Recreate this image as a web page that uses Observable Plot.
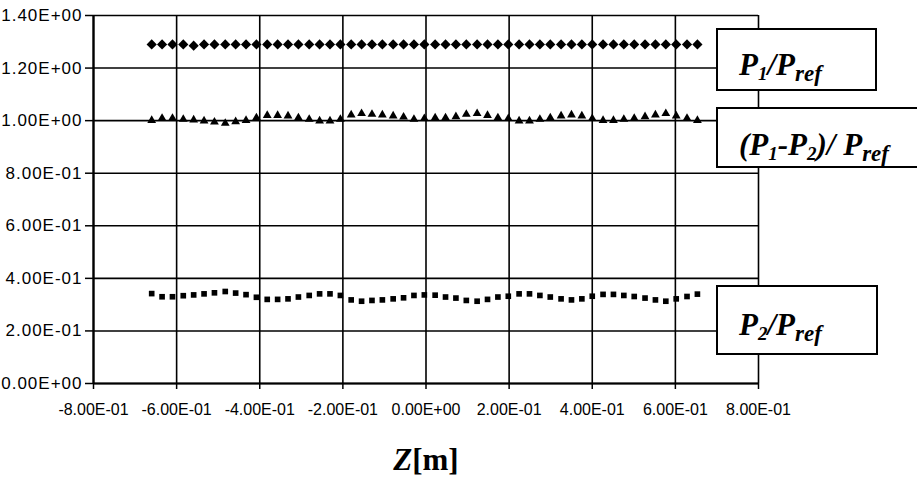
<!DOCTYPE html>
<html>
<head>
<meta charset="utf-8">
<script src="https://cdn.jsdelivr.net/npm/d3@7"></script>
<script src="https://cdn.jsdelivr.net/npm/@observablehq/plot@0.6"></script>
<style>
  html, body { margin: 0; padding: 0; background: white; }
  #wrap { position: relative; width: 917px; height: 485px; overflow: hidden; background: white; }
  .box { position: absolute; background: white; border: 2px solid black; box-sizing: border-box; }
  .lbl { position: absolute; font-family: "Liberation Serif", "Times New Roman", serif; font-weight: bold; font-style: italic; font-size: 31px; line-height: 31px; white-space: nowrap; color: black; }
  .lbl .s1 { font-size: 19px; position: relative; top: 5px; }
  .lbl .sr { font-size: 23px; position: relative; top: 6px; }
  #xtitle { position: absolute; left: 376px; width: 100px; text-align: center; top: 444px; font-family: "Liberation Serif", "Times New Roman", serif; font-weight: bold; font-size: 31px; line-height: 31px; }
  #xtitle i { font-style: italic; }
</style>
</head>
<body>
<div id="wrap">
  <div id="chart"></div>
  <div class="box" style="left:716px; top:28px; width:161px; height:63px;"></div>
  <div class="lbl" style="left:739px; top:49px;">P<span class="s1">1</span>/P<span class="sr">ref</span></div>
  <div class="box" style="left:716px; top:107px; width:215px; height:61px;"></div>
  <div class="lbl" style="left:739px; top:129px;">(P<span class="s1">1</span>-P<span class="s1">2</span>)/ P<span class="sr">ref</span></div>
  <div class="box" style="left:716px; top:285px; width:162px; height:70px;"></div>
  <div class="lbl" style="left:739px; top:309px;">P<span class="s1">2</span>/P<span class="sr">ref</span></div>
  <div id="xtitle"><i>Z</i>[m]</div>
</div>
<script>
const zValues = [-0.660, -0.635, -0.610, -0.584, -0.559, -0.534, -0.509, -0.483, -0.458, -0.433,
  -0.408, -0.382, -0.357, -0.332, -0.307, -0.281, -0.256, -0.231, -0.206, -0.180,
  -0.155, -0.130, -0.105, -0.079, -0.054, -0.029, -0.004, 0.022, 0.047, 0.072,
  0.097, 0.123, 0.148, 0.173, 0.198, 0.224, 0.249, 0.274, 0.299, 0.325,
  0.350, 0.375, 0.400, 0.426, 0.451, 0.476, 0.501, 0.527, 0.552, 0.577,
  0.602, 0.628, 0.653];
const p1Ratio = [1.290, 1.290, 1.290, 1.290, 1.285, 1.290, 1.290, 1.290, 1.290, 1.290,
  1.290, 1.290, 1.290, 1.290, 1.290, 1.290, 1.290, 1.290, 1.290, 1.290,
  1.290, 1.290, 1.290, 1.290, 1.290, 1.290, 1.290, 1.290, 1.290, 1.290,
  1.290, 1.290, 1.290, 1.290, 1.290, 1.290, 1.290, 1.290, 1.290, 1.290,
  1.290, 1.290, 1.290, 1.290, 1.290, 1.290, 1.290, 1.290, 1.290, 1.290,
  1.290, 1.290, 1.290];
const diffRatio = [1.001, 1.009, 1.009, 1.005, 1.003, 0.999, 0.995, 0.990, 0.996, 1.001,
  1.011, 1.020, 1.020, 1.018, 1.011, 1.005, 0.999, 0.999, 1.005, 1.022,
  1.027, 1.024, 1.022, 1.018, 1.014, 1.005, 1.008, 1.011, 1.011, 1.015,
  1.024, 1.027, 1.020, 1.011, 1.008, 0.999, 0.999, 1.005, 1.011, 1.018,
  1.022, 1.018, 1.008, 1.001, 1.001, 1.005, 1.009, 1.015, 1.022, 1.027,
  1.018, 1.009, 1.001];
const p2Ratio = [0.342, 0.330, 0.330, 0.334, 0.337, 0.341, 0.345, 0.350, 0.344, 0.338,
  0.328, 0.320, 0.320, 0.322, 0.329, 0.335, 0.341, 0.341, 0.335, 0.318,
  0.313, 0.316, 0.318, 0.322, 0.326, 0.335, 0.337, 0.336, 0.329, 0.325,
  0.316, 0.313, 0.320, 0.329, 0.332, 0.341, 0.341, 0.335, 0.329, 0.322,
  0.318, 0.322, 0.332, 0.339, 0.339, 0.335, 0.331, 0.325, 0.318, 0.313,
  0.322, 0.331, 0.340];
const xTicks = [-0.8, -0.6, -0.4, -0.2, 0, 0.2, 0.4, 0.6, 0.8];
const yTicks = [0, 0.2, 0.4, 0.6, 0.8, 1.0, 1.2, 1.4];

function sci(d) {
  const [m, e] = (+d).toExponential(2).split("e");
  const sign = e[0] === "-" ? "-" : "+";
  const digits = e.replace(/^[+-]/, "").padStart(2, "0");
  return m + "E" + sign + digits;
}

const rows = zValues.map((z, i) => ({z, p1: p1Ratio[i], d: diffRatio[i], p2: p2Ratio[i]}));

const chart = Plot.plot({
  width: 917,
  height: 485,
  marginLeft: 93,
  marginRight: 159,
  marginTop: 15,
  marginBottom: 102,
  style: {fontFamily: "'Liberation Sans', Arial, sans-serif", fontSize: "16px", color: "black", background: "white"},
  x: {domain: [-0.8, 0.8]},
  y: {domain: [0, 1.4]},
  marks: [
    Plot.gridX(xTicks, {stroke: "black", strokeOpacity: 1, strokeWidth: 1.6}),
    Plot.gridY(yTicks, {stroke: "black", strokeOpacity: 1, strokeWidth: 1.6}),
    Plot.ruleX([-0.8], {stroke: "black", strokeWidth: 2.2}),
    Plot.ruleY([0], {stroke: "black", strokeWidth: 2.2}),
    Plot.axisX(xTicks, {tickFormat: sci, tickSize: 6, tickPadding: 14, label: null, fontSize: 16, stroke: "black", strokeWidth: 1.5}),
    Plot.axisY(yTicks, {tickFormat: sci, tickSize: 8, tickPadding: 3, label: null, fontSize: 17, stroke: "black", strokeWidth: 1.5}),
    Plot.dot(rows, {x: "z", y: "p1", symbol: "diamond2", r: 4.6, fill: "black", stroke: "none"}),
    Plot.dot(rows, {x: "z", y: "d", symbol: "triangle2", r: 4.2, fill: "black", stroke: "none"}),
    Plot.dot(rows, {x: "z", y: "p2", symbol: "square2", r: 3.6, fill: "black", stroke: "none"})
  ]
});
d3.select(chart).selectAll('g[aria-label="y-axis tick label"] text').style("font-size", "17px").style("letter-spacing", "1px");
d3.select(chart).selectAll('g[aria-label="x-axis tick label"] text').style("font-size", "16px");
document.getElementById("chart").appendChild(chart);
</script>
</body>
</html>
